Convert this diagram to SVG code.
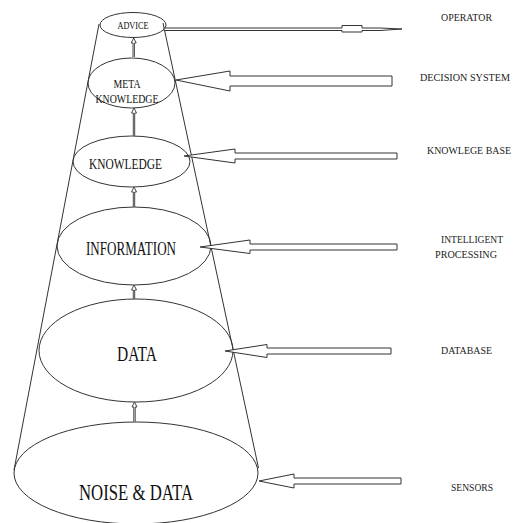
<svg xmlns="http://www.w3.org/2000/svg" width="513" height="523" viewBox="0 0 513 523">
<style>
.el{fill:none;stroke:#333;stroke-width:1}
.cone{stroke:#333;stroke-width:1;fill:none}
.blk{fill:#fff;stroke:#333;stroke-width:1;stroke-linejoin:miter}
.up{fill:#fff;stroke:#333;stroke-width:0.9}
.t{fill:#111;text-anchor:middle}
.lbl{fill:#222;font-size:9.5px}
</style>
<rect width="513" height="523" fill="#fff"/>
<g id="cone">
<line class="cone" x1="99" y1="24" x2="14" y2="470"/>
<line class="cone" x1="163" y1="23" x2="258.5" y2="468"/>
</g>
<g font-family="'Liberation Serif', 'DejaVu Serif', serif">
<g id="advice">
<ellipse class="el" cx="133" cy="25" rx="33" ry="12.5"/>
<text class="t" x="133" y="29" font-size="11" textLength="31" lengthAdjust="spacingAndGlyphs">ADVICE</text>
</g>
<g id="meta-knowledge">
<ellipse class="el" cx="131.5" cy="83" rx="43.5" ry="25"/>
<text class="t" x="127" y="88" font-size="13" textLength="27" lengthAdjust="spacingAndGlyphs">META</text>
<text class="t" x="127" y="103" font-size="13" textLength="63" lengthAdjust="spacingAndGlyphs">KNOWLEDGE</text>
</g>
<g id="knowledge">
<ellipse class="el" cx="131.5" cy="161.5" rx="58.5" ry="25.5"/>
<text class="t" x="125.5" y="169" font-size="14.5" textLength="73" lengthAdjust="spacingAndGlyphs">KNOWLEDGE</text>
</g>
<g id="information">
<ellipse class="el" cx="134" cy="246" rx="77" ry="39"/>
<text class="t" x="131" y="255" font-size="18" textLength="90" lengthAdjust="spacingAndGlyphs">INFORMATION</text>
</g>
<g id="data">
<ellipse class="el" cx="136" cy="350.5" rx="97" ry="51.5"/>
<text class="t" x="137" y="361" font-size="21" textLength="40" lengthAdjust="spacingAndGlyphs">DATA</text>
</g>
<g id="noise-data">
<ellipse class="el" cx="136" cy="473" rx="122" ry="51"/>
<text class="t" x="136" y="500" font-size="23" textLength="114" lengthAdjust="spacingAndGlyphs">NOISE &amp; DATA</text>
</g>
<g id="labels">
<text class="lbl" x="441" y="21" textLength="51" lengthAdjust="spacingAndGlyphs">OPERATOR</text>
<text class="lbl" x="420" y="81" textLength="90" lengthAdjust="spacingAndGlyphs">DECISION SYSTEM</text>
<text class="lbl" x="427" y="154" textLength="84" lengthAdjust="spacingAndGlyphs">KNOWLEGE BASE</text>
<text class="lbl" x="441" y="243" textLength="62" lengthAdjust="spacingAndGlyphs">INTELLIGENT</text>
<text class="lbl" x="435" y="258" textLength="62" lengthAdjust="spacingAndGlyphs">PROCESSING</text>
<text class="lbl" x="441" y="354" textLength="51" lengthAdjust="spacingAndGlyphs">DATABASE</text>
<text class="lbl" x="451" y="491" textLength="42" lengthAdjust="spacingAndGlyphs">SENSORS</text>
</g>
</g>
<g id="connectors">
<polygon class="blk" points="164,28 342,28 342,25.5 362,25.5 362,28 380,28 402,29 380,30.5 362,30.5 362,32 342,32 342,30.5 164,30.5"/>
<polygon class="blk" points="176,80 230,71 230,76 392,76 392,86 230,86 230,91"/>
<polygon class="blk" points="184,156 235,149 235,153 397,153 397,159 235,159 235,163"/>
<polygon class="blk" points="200,247 250,240 250,244 397,244 397,250 250,250 250,253.5"/>
<polygon class="blk" points="225,351 267,344.5 267,348 391,348 391,354 267,354 267,357.5"/>
<polygon class="blk" points="259,481 294,474 294,478 401,478 401,484 294,484 294,488"/>
<path class="up" d="M133,57 V43 H131.2 L133.7,38 L136.2,43 H134.4 V57"/>
<path class="up" d="M133.3,136 V113 H131.5 L134,108 L136.5,113 H134.7 V136"/>
<path class="up" d="M133.3,207 V192 H131.5 L134,187 L136.5,192 H134.7 V207"/>
<path class="up" d="M133.3,299 V290 H131.5 L134,285 L136.5,290 H134.7 V299"/>
<path class="up" d="M133.8,422 V407 H132 L134.5,402 L137,407 H135.2 V422"/>
</g>
</svg>
